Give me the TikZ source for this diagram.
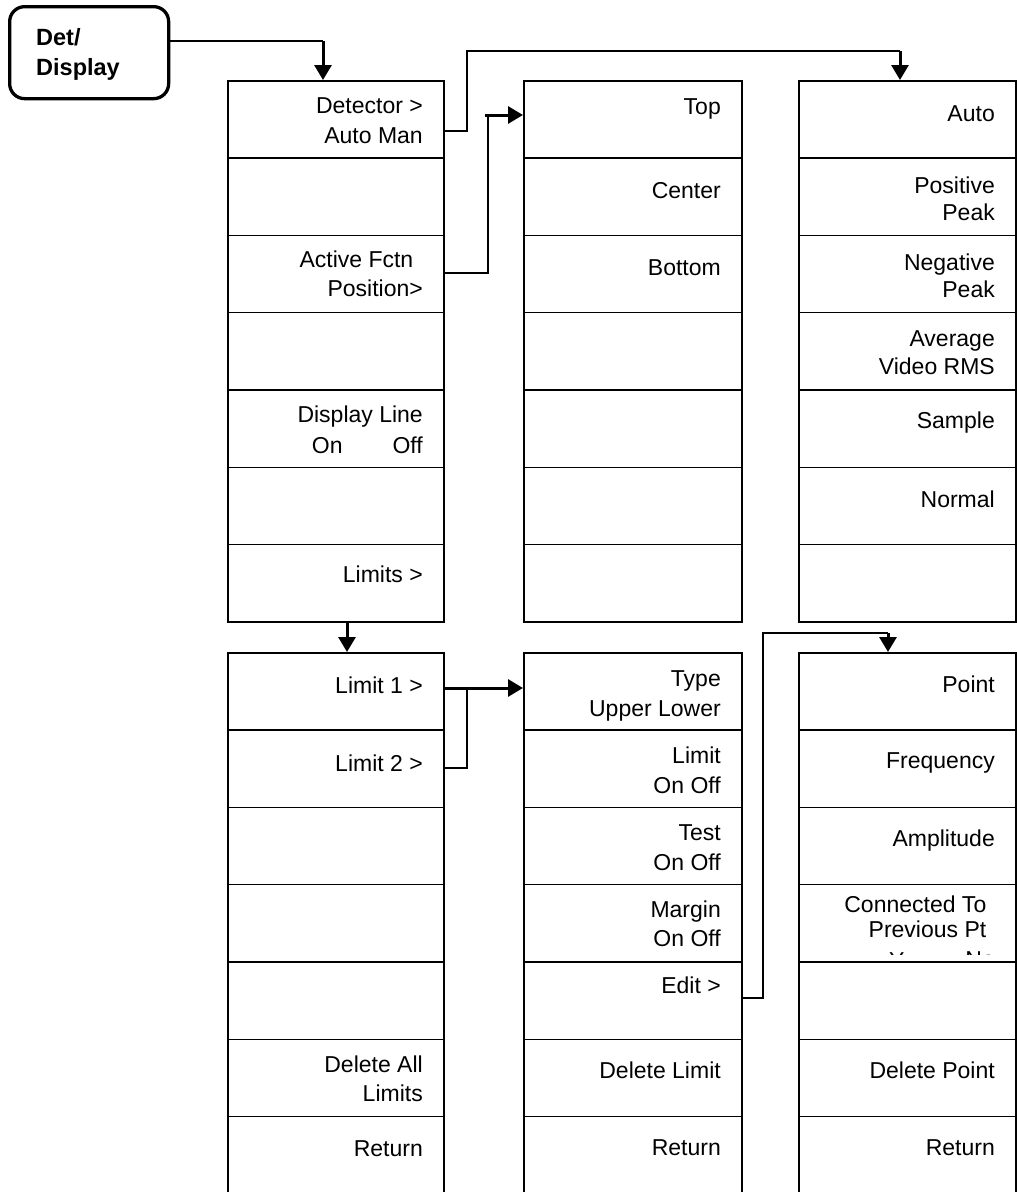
\documentclass[tikz,border=0pt]{standalone}
\usepackage{fontspec}
\setmainfont{Liberation Sans}
\usetikzlibrary{arrows.meta,calc}
\newcommand\celltxt[5][-21.5]{\node[lbl] (#2) at ($(#3.north east)+(#1,#4)$) {#5};}
\begin{document}
\begin{tikzpicture}[x=1pt,y=-1pt,
  cellbox/.style={draw, line width=1.5pt, minimum width=#1, minimum height=77.3pt, inner sep=0pt, anchor=north west},
  lbl/.style={anchor=base east, inner sep=0pt, font=\fontsize{23}{28}\selectfont},
  keybox/.style={draw, line width=3.3pt, rounded corners=15pt, minimum width=159pt, minimum height=92pt, anchor=north west, inner sep=0pt},
  keytxt/.style={anchor=base west, inner sep=0pt, font=\fontsize{23.5}{28}\selectfont\bfseries},
  conn/.style={line width=1.3pt},
  bigarrow/.style={line width=3pt, -{Triangle[width=17pt,length=15pt]}}
]
\useasboundingbox (0,0) rectangle (1017,1192);
\clip (0,0) rectangle (1017,1192);

% hard key
\node[keybox] (det) at (8,5) {};
\node[keytxt] (dettxt1) at (36,45) {Det/};
\node[keytxt] (dettxt2) at (36,75) {Display};

% menu columns
\foreach \r in {1,...,7}{
  \node[cellbox=216pt] (m1r\r) at ({227},{80+77.3*(\r-1)}) {};
  \node[cellbox=218pt] (m2r\r) at ({523},{80+77.3*(\r-1)}) {};
  \node[cellbox=217pt] (m3r\r) at ({798},{80+77.3*(\r-1)}) {};
  \node[cellbox=216pt] (m4r\r) at ({227},{652+77.3*(\r-1)}) {};
  \node[cellbox=218pt] (m5r\r) at ({523},{652+77.3*(\r-1)}) {};
  \node[cellbox=217pt] (m6r\r) at ({798},{652+77.3*(\r-1)}) {};
}

% column 1 (Det/Display)
\celltxt{t11a}{m1r1}{33}{Detector >}
\celltxt{t11b}{m1r1}{63}{Auto Man}
\celltxt[-31]{t13a}{m1r3}{33}{Active Fctn}
\celltxt{t13b}{m1r3}{62}{Position>}
\celltxt{t15a}{m1r5}{33.5}{Display Line}
\celltxt{t15b}{m1r5}{64}{On\hspace{50pt}Off}
\celltxt{t17a}{m1r7}{39}{Limits >}

% column 2 (Position)
\celltxt{t21a}{m2r1}{34}{Top}
\celltxt{t22a}{m2r2}{41}{Center}
\celltxt{t23a}{m2r3}{41}{Bottom}

% column 3 (Detector)
\celltxt{t31a}{m3r1}{41}{Auto}
\celltxt{t32a}{m3r2}{36}{Positive}
\celltxt{t32b}{m3r2}{63}{Peak}
\celltxt{t33a}{m3r3}{36}{Negative}
\celltxt{t33b}{m3r3}{63}{Peak}
\celltxt{t34a}{m3r4}{35}{Average}
\celltxt{t34b}{m3r4}{63}{Video RMS}
\celltxt{t35a}{m3r5}{39}{Sample}
\celltxt{t36a}{m3r6}{41}{Normal}

% column 4 (Limits)
\celltxt{t41a}{m4r1}{41}{Limit 1 >}
\celltxt{t42a}{m4r2}{42}{Limit 2 >}
\celltxt{t46a}{m4r6}{34}{Delete All}
\celltxt{t46b}{m4r6}{63}{Limits}
\celltxt{t47a}{m4r7}{41}{Return}

% column 5 (Limit n)
\celltxt{t51a}{m5r1}{34}{Type}
\celltxt{t51b}{m5r1}{64}{Upper Lower}
\celltxt{t52a}{m5r2}{34}{Limit}
\celltxt{t52b}{m5r2}{64}{On Off}
\celltxt{t53a}{m5r3}{34}{Test}
\celltxt{t53b}{m5r3}{64}{On Off}
\celltxt{t54a}{m5r4}{34}{Margin}
\celltxt{t54b}{m5r4}{63}{On Off}
\celltxt{t55a}{m5r5}{32}{Edit >}
\celltxt{t56a}{m5r6}{40}{Delete Limit}
\celltxt{t57a}{m5r7}{40}{Return}

% column 6 (Edit)
\celltxt{t61a}{m6r1}{40}{Point}
\celltxt{t62a}{m6r2}{39}{Frequency}
\celltxt{t63a}{m6r3}{40}{Amplitude}
\celltxt[-30]{t64a}{m6r4}{29}{Connected To}
\celltxt[-30]{t64b}{m6r4}{54}{Previous Pt}
\begin{scope}
  \clip (798,884) rectangle (1015,954);
  \node[lbl, anchor=base west] (t64c) at (889,968) {Yes};
  \celltxt{t64d}{m6r4}{84}{No}
\end{scope}
\celltxt{t66a}{m6r6}{40}{Delete Point}
\celltxt{t67a}{m6r7}{40}{Return}

% connectors
\coordinate (j0) at (323,41);
\draw[conn] (det.east |- j0) -- (j0);
\draw[bigarrow] (j0) -- (j0 |- m1r1.north);

\coordinate (j1a) at (443,131);
\coordinate (j1b) at (467,51);
\coordinate (j1c) at (900,51);
\draw[conn] (j1a) -| (j1b) -- (j1c);
\draw[bigarrow] (j1c) -- (j1c |- m3r1.north);

\coordinate (j2a) at (443,273);
\coordinate (j2b) at (488,115);
\coordinate (j2c) at (485,115);
\draw[conn] (j2a) -| (j2b);
\draw[bigarrow] (j2c) -- (j2c -| m2r1.west);

\coordinate (j3) at (347,0);
\draw[bigarrow] (j3 |- m1r7.south) -- (j3 |- m4r1.north);

\coordinate (j4a) at (443,688);
\coordinate (j4b) at (443,768);
\coordinate (j4c) at (467,688);
\draw[bigarrow] (j4a) -- (j4a -| m5r1.west);
\draw[conn] (j4b) -| (j4c);

\coordinate (j5a) at (741,998);
\coordinate (j5b) at (763,633);
\coordinate (j5c) at (888,633);
\draw[conn] (j5a) -| (j5b) -- (j5c);
\draw[bigarrow] (j5c) -- (j5c |- m6r1.north);
\end{tikzpicture}
\end{document}
